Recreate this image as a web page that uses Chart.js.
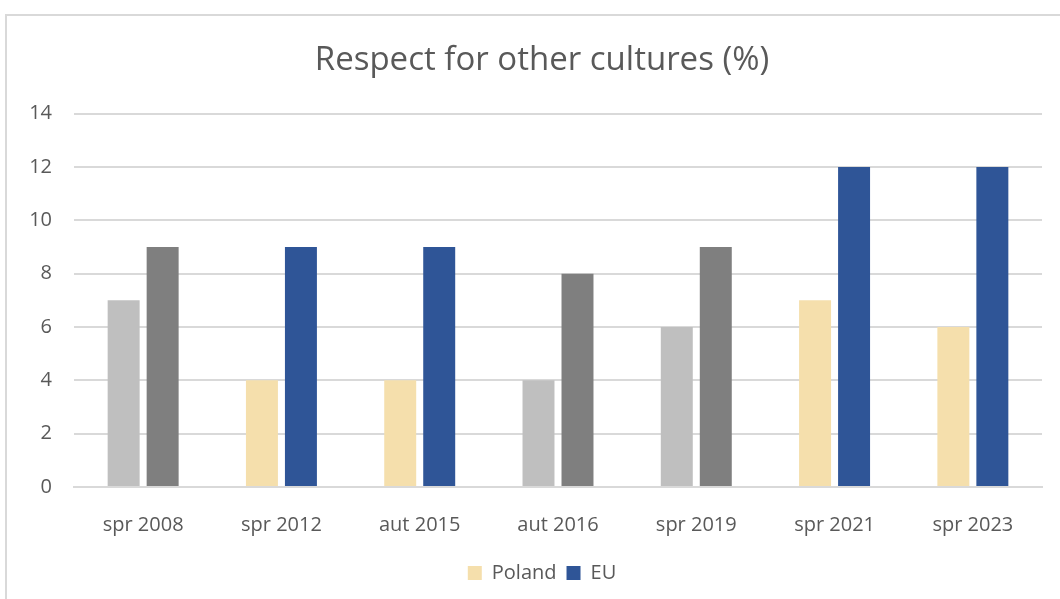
<!DOCTYPE html>
<html>
<head>
<meta charset="utf-8">
<script src="https://cdn.jsdelivr.net/npm/chart.js@4/dist/chart.umd.min.js"></script>
<style>
  html, body { margin: 0; padding: 0; background: #fff; }
  #wrap { position: relative; width: 1060px; height: 599px; overflow: hidden; }
  #frame { position: absolute; left: 5px; top: 14px; width: 1100px; height: 700px; border: 2px solid #d9d9d9; box-sizing: border-box; }
  #c { position: absolute; left: 0; top: 0; }
</style>
</head>
<body>
<div id="wrap">
  <div id="frame"></div>
  <canvas id="c" width="1084" height="599"></canvas>
</div>
<script>
const labels = ['spr 2008', 'spr 2012', 'aut 2015', 'aut 2016', 'spr 2019', 'spr 2021', 'spr 2023']
const poland = [7, 4, 4, 4, 6, 7, 6]
const eu = [9, 9, 9, 8, 9, 12, 12]
// some waves are drawn in grey in the original
const greyed = [true, false, false, true, true, false, false]

const beige = '#f5dfac'
const blue = '#2f5597'
const lightGrey = '#bfbfbf'
const darkGrey = '#7f7f7f'
const textColor = '#595959'
const font = '"Open Sans", sans-serif'

new Chart(document.getElementById('c'), {
  type: 'bar',
  data: {
    labels,
    datasets: [
      { label: 'Poland', data: poland, backgroundColor: greyed.map(g => g ? lightGrey : beige) },
      { label: 'EU', data: eu, backgroundColor: greyed.map(g => g ? darkGrey : blue) }
    ]
  },
  options: {
    responsive: false,
    animation: false,
    categoryPercentage: 0.564,
    barPercentage: 0.82,
    layout: { padding: { left: 0, right: 0, top: 0, bottom: 6 } },
    plugins: {
      title: {
        display: true,
        text: 'Respect for other cultures (%)',
        color: textColor,
        font: { family: font, size: 33, weight: 'normal' },
        padding: { top: 41, bottom: 33 }
      },
      legend: {
        position: 'bottom',
        labels: {
          color: textColor,
          font: { family: font, size: 20 },
          boxWidth: 14,
          boxHeight: 14,
          padding: 10,
          generateLabels: () => [
            { text: 'Poland', fillStyle: beige, strokeStyle: beige, lineWidth: 0, fontColor: textColor },
            { text: 'EU', fillStyle: blue, strokeStyle: blue, lineWidth: 0, fontColor: textColor }
          ]
        },
        onClick: null
      },
      tooltip: { enabled: false }
    },
    scales: {
      x: {
        grid: { display: false },
        border: { color: '#d9d9d9', width: 2 },
        ticks: { color: textColor, font: { family: font, size: 20 }, padding: 18 },
        afterFit: s => { s.height = 66 }
      },
      y: {
        min: 0,
        max: 14,
        ticks: { stepSize: 2, color: textColor, font: { family: font, size: 20 }, padding: 22 },
        grid: { color: '#d9d9d9', lineWidth: 2, drawTicks: false },
        border: { display: false },
        afterFit: s => { s.width = 74 }
      },
      // empty right-hand margin so the plot ends where the original does
      pad: {
        position: 'right',
        display: true,
        ticks: { display: false },
        grid: { display: false },
        border: { display: false },
        afterFit: s => { s.width = 42 }
      }
    }
  }
})
</script>
</body>
</html>
